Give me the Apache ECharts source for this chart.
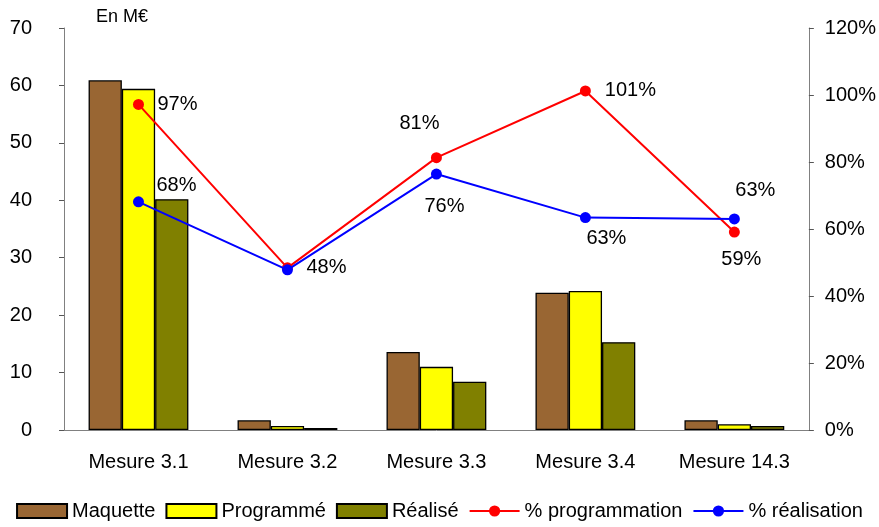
<!DOCTYPE html>
<html><head><meta charset="utf-8">
<script src="https://cdn.jsdelivr.net/npm/echarts@6/dist/echarts.min.js"></script>
<style>html,body{margin:0;padding:0;background:#fff}#c{width:879px;height:527px}</style>
</head><body><div id="c"></div>
<script>
const categories = ['Mesure 3.1','Mesure 3.2','Mesure 3.3','Mesure 3.4','Mesure 14.3'];
const maquette = [60.9, 1.7, 13.6, 23.9, 1.7];
const programme = [59.4, 0.7, 11.0, 24.2, 1.0];
const realise = [40.2, 0.35, 8.4, 15.3, 0.7];
const pctProgrammation = [97.2, 48.4, 81.3, 101.2, 59.1];
const pctRealisation = [68.1, 47.8, 76.4, 63.4, 63.0];
const leftTicks = [0,10,20,30,40,50,60,70];
const rightTicks = ['0%','20%','40%','60%','80%','100%','120%'];

const font = 'Liberation Sans, Arial, sans-serif';
const progOffsets = [[39,0],[39,0],[-17,-34],[45,0],[7,27]];
const realOffsets = [[38,-16],[39,0],[8,32],[21,21],[21,-28]];
const realShow = [true,false,true,true,true];

function lineData(vals, offs, shows){
  return vals.map((v,i)=>({value:v,label:{show:shows?shows[i]:true,offset:offs[i]}}));
}
const barStyle = c => ({color:c, borderColor:'#000', borderWidth:1.3});

const chart = echarts.init(document.getElementById('c'));
chart.setOption({
  animation:false,
  textStyle:{fontFamily:font},
  title:{text:'En M€', left:91, top:3, textStyle:{fontFamily:font,fontSize:18,fontWeight:'normal',color:'#000'}},
  grid:{left:64,right:69,top:28,bottom:97},
  legend:{bottom:1,left:'center',itemWidth:50,itemHeight:14,itemGap:10,
    textStyle:{fontFamily:font,fontSize:20,color:'#000'},
    data:[{name:'Maquette',icon:'rect'},{name:'Programmé',icon:'rect'},{name:'Réalisé',icon:'rect'},'% programmation','% réalisation']},
  xAxis:{type:'category',data:categories,
    axisLine:{lineStyle:{color:'#808080',width:1}},
    axisTick:{length:5,lineStyle:{color:'#555'}},
    axisLabel:{color:'#000',fontSize:20,margin:22,fontFamily:font}},
  yAxis:[
    {type:'value',min:0,max:70,interval:10,
      axisLine:{show:true,lineStyle:{color:'#808080'}},
      axisTick:{show:true,length:5,lineStyle:{color:'#555'}},
      splitLine:{show:false},
      axisLabel:{color:'#000',fontSize:20,margin:32,fontFamily:font,formatter:v=>String(v)}},
    {type:'value',min:0,max:120,interval:20,
      axisLine:{show:true,lineStyle:{color:'#808080'}},
      axisTick:{show:true,length:5,lineStyle:{color:'#555'}},
      splitLine:{show:false},
      axisLabel:{color:'#000',fontSize:20,margin:16,fontFamily:font,formatter:v=>rightTicks[v/20]}}
  ],
  series:[
    {name:'Maquette',type:'bar',data:maquette,barGap:'0%',barCategoryGap:'33%',itemStyle:barStyle('#996633')},
    {name:'Programmé',type:'bar',data:programme,itemStyle:barStyle('#FFFF00')},
    {name:'Réalisé',type:'bar',data:realise,itemStyle:barStyle('#808000')},
    {name:'% programmation',type:'line',yAxisIndex:1,data:lineData(pctProgrammation,progOffsets),
      symbol:'circle',symbolSize:11,lineStyle:{color:'#FF0000',width:2},itemStyle:{color:'#FF0000'},
      label:{show:true,position:'inside',color:'#000',fontSize:20,fontFamily:font,formatter:p=>Math.round(p.value)+'%'},z:5},
    {name:'% réalisation',type:'line',yAxisIndex:1,data:lineData(pctRealisation,realOffsets,realShow),
      symbol:'circle',symbolSize:11,lineStyle:{color:'#0000FF',width:2},itemStyle:{color:'#0000FF'},
      label:{show:true,position:'inside',color:'#000',fontSize:20,fontFamily:font,formatter:p=>Math.round(p.value)+'%'},z:6}
  ]
});
</script></body></html>
